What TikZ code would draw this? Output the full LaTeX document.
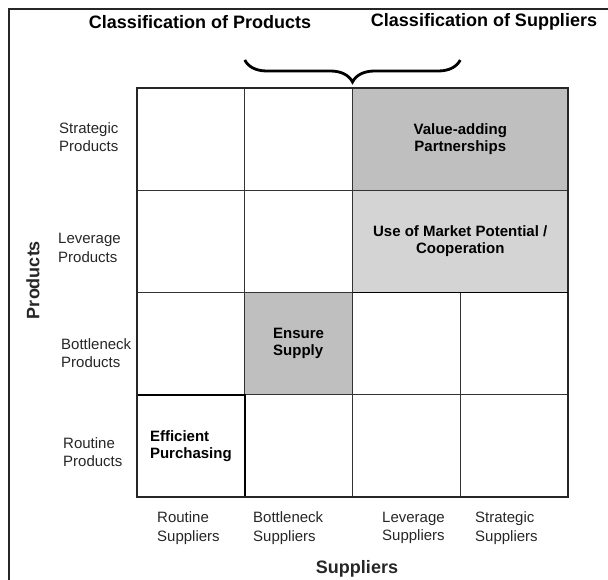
\documentclass[tikz,border=0pt]{standalone}
\usepackage{fontspec}
\setmainfont{Liberation Sans}
\usepackage{tikz}
\usetikzlibrary{positioning,fit,calc,decorations.pathreplacing}

\begin{document}
\begin{tikzpicture}[x=1pt, y=-1pt,
                    cell/.style={draw=black!80, line width=1pt, inner sep=0pt,
                    outer sep=0pt, minimum width=107.75pt, minimum height=102.25pt},
                    wide/.style={cell, minimum width=215.5pt},
                    dark/.style={fill=black!25},
                    light/.style={fill=black!17},
                    tag/.style={font=\bfseries\fontsize{15}{17}\selectfont, align=center},
                    lbl/.style={font=\fontsize{15}{18.5}\selectfont, align=left,
                    inner sep=0pt, anchor=west, text=black!85},
                    head/.style={font=\bfseries\fontsize{18}{20}\selectfont},
                    axis/.style={font=\bfseries\fontsize{18}{20}\selectfont, text=black!85},
                    frame/.style={draw=black!85, line width=1.8pt},
                    brace/.style={decorate, decoration={brace, amplitude=22pt},
                    line width=2.8pt},
                ]
                \useasboundingbox (0,0) rectangle (608,580);
                \draw[black!85, line width=1.5pt] (9,580) -- (9,9) -- (608,9);

                % strategic and leverage rows
                \node[cell, anchor=north west] (strat1) at (137,88) {};
                \node[cell] (strat2) [right=0pt of strat1] {};
                \node[wide, dark, tag] (strat34) [right=0pt of strat2] {Value-adding\\Partnerships};
                \node[cell] (lev1) [below=0pt of strat1] {};
                \node[cell] (lev2) [right=0pt of lev1] {};
                \node[wide, light, tag] (lev34) [right=0pt of lev2] {Use of Market Potential /\\Cooperation};
                % bottleneck and routine rows
                \node[cell] (bott1) [below=0pt of lev1] {};
                \node[cell, dark, tag, align=left] (bott2) [right=0pt of bott1] {Ensure\\Supply};
                \node[cell] (bott3) [right=0pt of bott2] {};
                \node[cell] (bott4) [right=0pt of bott3] {};
                \node[cell] (rout2) [below=0pt of bott2] {};
                \node[cell] (rout3) [right=0pt of rout2] {};
                \node[cell] (rout4) [right=0pt of rout3] {};
                \node[cell, tag, align=left, line width=2pt, draw=black] (rout1) [below=0pt of bott1] {Efficient\\Purchasing};
                \draw[frame] (strat1.north west) rectangle (rout4.south east);
                \draw[black, line width=1.8pt] (lev34.south west) -- (lev34.south east);

                % row and column labels
                \node[lbl] (prod_strategic) at (59,137) {Strategic\\Products};
                \node[lbl] (prod_leverage) at (58,248) {Leverage\\Products};
                \node[lbl] (prod_bottleneck) at (61,353) {Bottleneck\\Products};
                \node[lbl] (prod_routine) at (63,452) {Routine\\Products};
                \node[lbl] (supp_routine) at (157,528) {Routine\\Suppliers};
                \node[lbl] (supp_bottleneck) at (253,528) {Bottleneck\\Suppliers};
                \node[lbl] (supp_leverage) at (382,528) {Leverage\\Suppliers};
                \node[lbl] (supp_strategic) at (475,528) {Strategic\\Suppliers};

                \node[axis, rotate=90] (products) at (33,280) {Products};
                \node[axis] (suppliers) at (357,569) {Suppliers};

                \node[head] (head_products) at (200,22) {Classification of Products};
                \node[head] (head_suppliers) at (484,22) {Classification of Suppliers};
                \coordinate (brace_l) at ($(strat2.north west)+(0,-28)$);
                \coordinate (brace_r) at ($(strat34.north)+(0,-28)$);
                \draw[brace] (brace_r) -- (brace_l);
            \end{tikzpicture}
\end{document}
